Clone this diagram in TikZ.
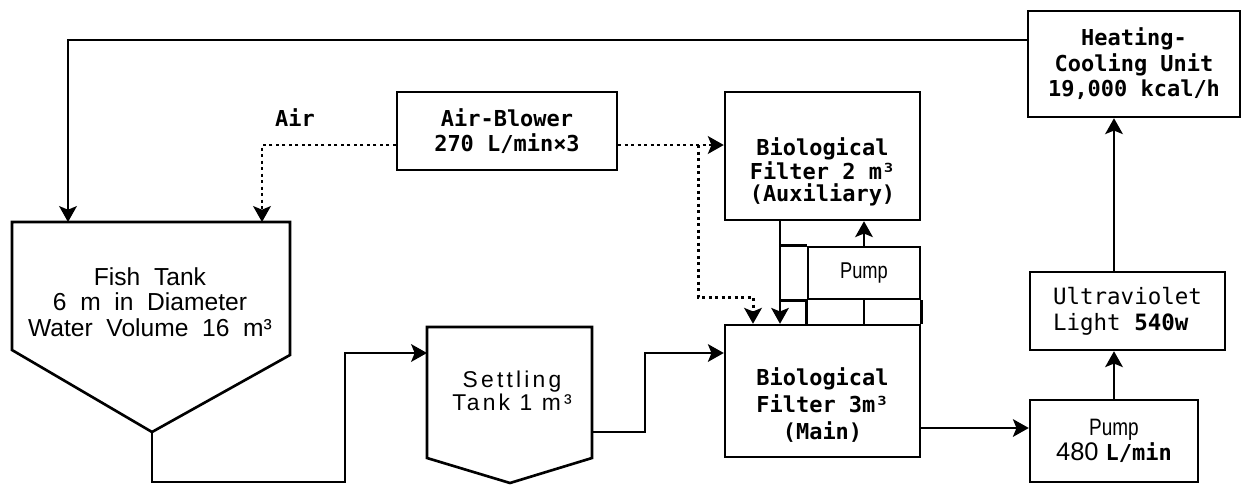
\documentclass[tikz,border=0pt]{standalone}
\usepackage{fontspec}
\setmainfont{Liberation Sans}
\setmonofont{DejaVu Sans Mono}
\newfontfamily\widesf{Liberation Sans}[WordSpace=2]
\newfontfamily\spacedsf{Liberation Sans}[LetterSpace=14]
\newfontfamily\narrowsf{Liberation Sans}[FakeStretch=0.8]
\usetikzlibrary{arrows.meta}
\begin{document}
\begin{tikzpicture}[x=0.02cm, y=-0.02cm, line width=1.5pt,
  unit/.style={draw, line width=1.4pt, inner sep=0pt, align=center},
  monolbl/.style={font=\fontsize{12.5}{14.5}\selectfont\ttfamily\bfseries, align=center, inner sep=0pt},
  flow/.style={-{Stealth[length=9pt, width=10pt, inset=2pt]}},
  airflow/.style={flow, line width=1.7pt, dash pattern=on 1.8pt off 1.9pt}]
  \useasboundingbox (0,0) rectangle (1244,484);
  \draw (12,222) -- (290,222) -- (290,355) -- (152,432) coordinate (fishapex) -- (12,350) -- cycle;
  \node[font=\fontsize{14}{14.4}\selectfont\widesf, align=center, inner sep=0pt] (fish) at (150,302) {Fish Tank\\6 m in Diameter\\Water Volume 16 m³};
  \draw (427,327) -- (592,327) -- (592,458) -- (510,483) -- (427,458) -- cycle;
  \node[font=\fontsize{13}{11.8}\selectfont\spacedsf, align=center, inner sep=0pt] (settle) at (512,391) {Settling\\Tank 1 m³};
  \node[unit, monolbl, minimum width=4.4cm, minimum height=1.56cm] (blower) at (507,131) {Air-Blower\\270 L/min×3};
  \node[unit, minimum width=3.9cm, minimum height=2.56cm] (aux) at (822.5,156) {};
  \node[monolbl, font=\fontsize{12.5}{12.6}\selectfont\ttfamily\bfseries] (auxtext) at (822.5,172) {Biological\\Filter 2 m³\\(Auxiliary)};
  \node[unit, minimum width=3.9cm, minimum height=2.64cm] (main) at (822.5,391) {};
  \node[monolbl, font=\fontsize{12.5}{15.4}\selectfont\ttfamily\bfseries] (maintext) at (822.5,405) {Biological\\Filter 3m³\\(Main)};
  \node[unit, minimum width=2.24cm, minimum height=1.04cm, font=\fontsize{13}{14}\selectfont\narrowsf] (pump) at (864,273) {Pump};
  \node[unit, minimum width=3.36cm, minimum height=1.64cm] (pumpb) at (1114,441) {{\fontsize{13.5}{15.4}\selectfont\narrowsf Pump}\\{\fontsize{14.5}{15.4}\selectfont 480 \fontsize{12.5}{15.4}\selectfont\ttfamily\bfseries L/min}};
  \node[unit, align=left, minimum width=3.9cm, minimum height=1.56cm, font=\fontsize{12.8}{14.8}\selectfont\ttfamily] (uv) at (1127.5,311) {Ultraviolet\\Light \textbf{540w}};
  \node[unit, monolbl, minimum width=4.24cm, minimum height=2.12cm] (heat) at (1134,64) {Heating-\\Cooling Unit\\19,000 kcal/h};
  \node[monolbl] (air) at (295,118) {Air};
  \coordinate (toploop) at (68,40);
  \coordinate (fishin) at (68,222);
  \coordinate (airturn) at (262,145);
  \coordinate (fishair) at (262,222);
  \coordinate (airdrop) at (698,297);
  \coordinate (mainair) at (753,297);
  \coordinate (auxout) at (780,220);
  \coordinate (mainout) at (920,428);
  \draw[flow] (toploop -| heat.west) -- (toploop) -- (fishin);
  \draw[airflow] (airturn -| blower.west) -- (airturn) -- (fishair);
  \draw[airflow] (airturn -| blower.east) -- (airturn -| aux.west);
  \draw[airflow] (airdrop |- airturn) -- (airdrop) -- (mainair) -- (mainair |- main.north);
  \draw[flow] (auxout) -- (auxout |- main.north);
  \draw[flow] (pump.north) -- (pump.north |- aux.south);
  \draw (auxout |- pump.north) -- (pump.north west);
  \draw (auxout |- pump.south) -- (pump.south west);
  \draw (pump.south west) -- (pump.south west |- main.north);
  \draw (pump.south) -- (pump.south |- main.north);
  \draw (pump.south east) -- (pump.south east |- main.north);
  \draw[flow] (fishapex) -- (152,482) -- (345,482) -- (345,353) -- (427,353);
  \draw[flow] (592,432) -- (645,432) |- (main.west |- 0,353);
  \draw[flow] (mainout) -- (mainout -| pumpb.west);
  \draw[flow] (pumpb.north) -- (pumpb.north |- uv.south);
  \draw[flow] (pumpb.north |- uv.north) -- (pumpb.north |- heat.south);
\end{tikzpicture}
\end{document}
